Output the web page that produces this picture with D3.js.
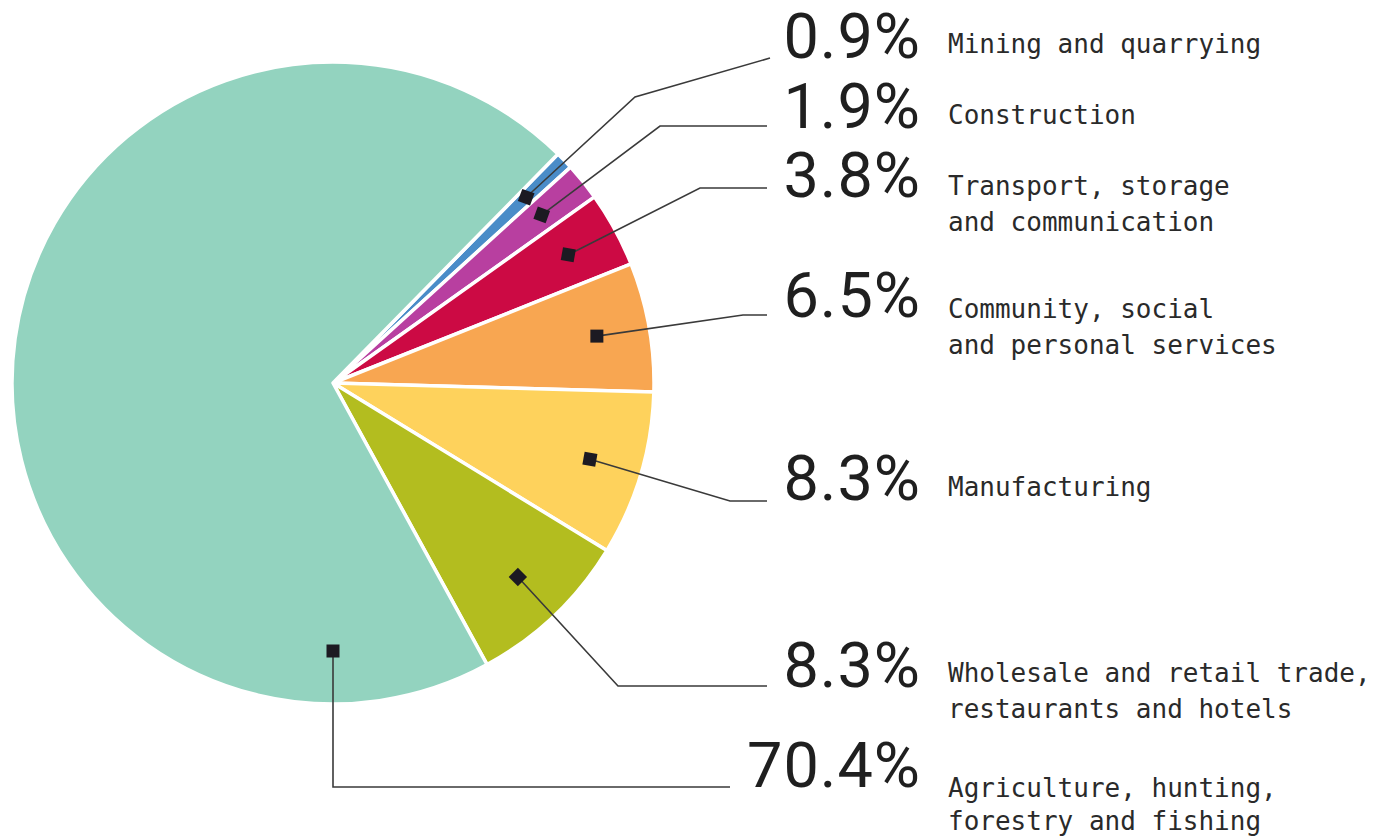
<!DOCTYPE html>
<html>
<head>
<meta charset="utf-8">
<script src="https://cdn.jsdelivr.net/npm/d3@7/dist/d3.min.js"></script>
<style>
  html, body { margin: 0; padding: 0; background: #ffffff; }
  svg { display: block; }
</style>
</head>
<body>
<svg id="chart" width="1384" height="839"></svg>
<script>
// ---- data ----
const categories = [
  "Mining and quarrying",
  "Construction",
  "Transport, storage\nand communication",
  "Community, social\nand personal services",
  "Manufacturing",
  "Wholesale and retail trade,\nrestaurants and hotels",
  "Agriculture, hunting,\nforestry and fishing"
];
const shares = [0.9, 1.9, 3.8, 6.5, 8.3, 8.3, 70.4];
const shareLabels = ["0.9%", "1.9%", "3.8%", "6.5%", "8.3%", "8.3%", "70.4%"];
const colors = ["#4a8cc8", "#b83fa0", "#cc0a44", "#f8a651", "#fed25c", "#b3bd1f", "#93d3bf"];

// ---- layout (positions only) ----
const cx = 333, cy = 383, R = 321, markerR = 268;
const startDeg = 44.5;
const leaderElbow = [[635, 97], [660, 126], [700, 188], [743, 315], [730, 501], [618, 686], [null, 787]];
const leaderEnd   = [[770, 58], [767, 126], [767, 188], [767, 315], [767, 501], [767, 686], [730, 787]];
const pctBaseline = [58, 128, 197, 317, 500, 687, 787];
const lblBaseline = [53, 124, 195, 318, 496, 682, 797];
const lineGap     = [36, 36, 36, 36, 36, 36, 33];
const markerRot   = [20, 20, 10, 0, 10, 45, 0];
const markerAngleOverride = [null, null, null, null, null, null, 180];

const svg = d3.select("#chart");
const g = svg.append("g").attr("transform", `translate(${cx},${cy})`);

const data = shares.map((v, i) => ({ i, value: v, name: categories[i], label: shareLabels[i] }));
const pie = d3.pie().sort(null).value(d => d.value)
  .startAngle(startDeg * Math.PI / 180)
  .endAngle(startDeg * Math.PI / 180 + 2 * Math.PI);
const arcs = pie(data);
const arc = d3.arc().innerRadius(0).outerRadius(R);

g.selectAll("path.slice").data(arcs).join("path")
  .attr("class", "slice")
  .attr("d", arc)
  .attr("fill", d => colors[d.data.i])
  .attr("stroke", "#ffffff")
  .attr("stroke-width", 3.5)
  .attr("stroke-linejoin", "round");

function markerPos(d) {
  const i = d.data.i;
  const a = markerAngleOverride[i] != null ? markerAngleOverride[i] * Math.PI / 180 : (d.startAngle + d.endAngle) / 2;
  return [cx + markerR * Math.sin(a), cy - markerR * Math.cos(a)];
}

svg.selectAll("path.leader").data(arcs).join("path")
  .attr("class", "leader")
  .attr("d", d => {
    const i = d.data.i;
    const [mx, my] = markerPos(d);
    const e = leaderElbow[i];
    const ex = e[0] == null ? mx : e[0];
    return d3.line()([[mx, my], [ex, e[1]], leaderEnd[i]]);
  })
  .attr("fill", "none")
  .attr("stroke", "#3a3a3a")
  .attr("stroke-width", 1.6);

svg.selectAll("rect.marker").data(arcs).join("rect")
  .attr("class", "marker")
  .attr("x", -6.5).attr("y", -6.5).attr("width", 13).attr("height", 13)
  .attr("transform", d => {
    const [mx, my] = markerPos(d);
    return `translate(${mx},${my}) rotate(${markerRot[d.data.i]})`;
  })
  .attr("fill", "#1c1a22");

svg.selectAll("text.pct").data(data).join("text")
  .attr("class", "pct")
  .attr("x", 921)
  .attr("y", d => pctBaseline[d.i])
  .attr("text-anchor", "end")
  .attr("font-family", "Roboto, 'Liberation Sans', sans-serif")
  .attr("font-size", 63)
  .attr("letter-spacing", 1)
  .attr("fill", "#1f1f1f")
  .text(d => d.label);

const lbl = svg.selectAll("text.cat").data(data).join("text")
  .attr("class", "cat")
  .attr("x", 948)
  .attr("y", d => lblBaseline[d.i])
  .attr("font-family", "'DejaVu Sans Mono', monospace")
  .attr("font-size", 26)
  .attr("fill", "#2a2a2a");
lbl.selectAll("tspan").data(d => d.name.split("\n").map(t => ({ t, gap: lineGap[d.i] }))).join("tspan")
  .attr("x", 948)
  .attr("dy", (o, j) => j === 0 ? 0 : o.gap)
  .text(o => o.t);
</script>
</body>
</html>
